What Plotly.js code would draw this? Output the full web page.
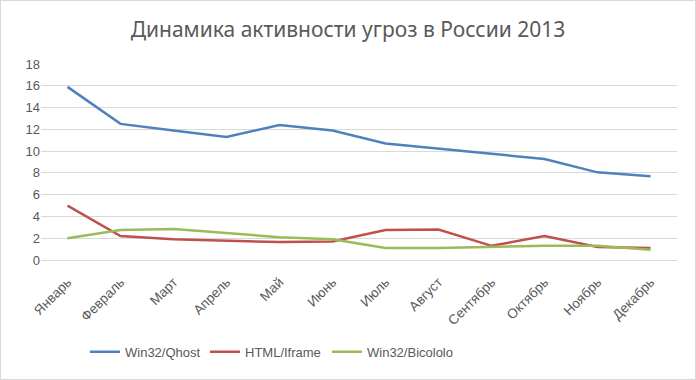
<!DOCTYPE html>
<html><head><meta charset="utf-8">
<script src="https://cdn.plot.ly/plotly-3.0.1.min.js"></script>
<style>html,body{margin:0;padding:0;background:#fff}#chart{width:694px;height:378px;border:1px solid #d9d9d9;}</style>
</head><body><div id="chart"></div>
<script>
const months = ["Январь","Февраль","Март","Апрель","Май","Июнь","Июль","Август","Сентябрь","Октябрь","Ноябрь","Декабрь"];
const qhost = [15.9,12.5,11.9,11.3,12.4,11.9,10.7,10.25,9.76,9.27,8.05,7.7];
const iframe = [5.0,2.2,1.9,1.8,1.65,1.7,2.75,2.8,1.3,2.2,1.2,1.1];
const bicololo = [2.0,2.75,2.85,2.45,2.1,1.9,1.1,1.1,1.2,1.3,1.3,0.95];
const seriesNames = ["Win32/Qhost","HTML/Iframe","Win32/Bicololo"];
const colors = ["#4F81BD","#C0504D","#9BBB59"];
const legendIds = ["legend","legend2","legend3"];
const data = [qhost, iframe, bicololo].map((v,i)=>({
  x: months, y: v, name: seriesNames[i], type:"scatter", mode:"lines",
  line:{color:colors[i], width:2.5}, legend: legendIds[i]
}));
const font = {family:"Liberation Sans, Arial, sans-serif", color:"#595959", size:13};
const legendX = [84, 204, 326];
const layout = {
  width:694, height:378,
  margin:{l:40, r:18, t:63, b:119, autoexpand:false},
  paper_bgcolor:"#fff", plot_bgcolor:"#fff",
  font: font,
  title:{text:"Динамика активности угроз в России 2013", x:0.5, xanchor:"center", xref:"container", y:0.925, yref:"container", yanchor:"middle", font:{family:"Noto Sans, sans-serif", size:21, color:"#595959"}},
  xaxis:{type:"category", range:[-0.5,11.5], tickangle:-45, showgrid:false, showline:true, linecolor:"#d9d9d9", ticks:"", ticklabelstandoff:8, tickfont:{size:13.5,color:"#595959"}, automargin:false},
  yaxis:{range:[0,18], dtick:2, tick0:0, showgrid:true, gridcolor:"#d9d9d9", zeroline:false, showline:false, ticks:"", tickfont:{size:13,color:"#595959"}, automargin:false},
  showlegend:true
};
legendIds.forEach((id,i)=>{
  layout[id] = {orientation:"h", xref:"container", yref:"container", x:legendX[i]/694, xanchor:"left", y:0.072, yanchor:"middle", font:{size:13,color:"#595959"}, bgcolor:"rgba(0,0,0,0)"};
});
Plotly.newPlot("chart", data, layout, {displayModeBar:false, staticPlot:true});
</script></body></html>
